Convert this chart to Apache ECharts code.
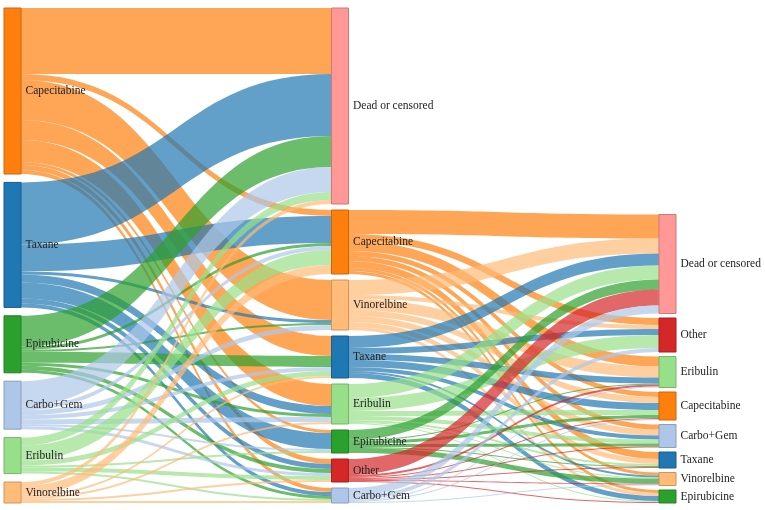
<!DOCTYPE html>
<html>
<head>
<meta charset="utf-8">
<script src="https://cdn.jsdelivr.net/npm/echarts@6/dist/echarts.min.js"></script>
<style>
  html, body { margin: 0; padding: 0; background: #fff; }
  #chart { width: 765px; height: 510px; }
</style>
</head>
<body>
<div id="chart"></div>
<script>
  // treatment at each line, largest group first
  const line1 = ['Capecitabine', 'Taxane', 'Epirubicine', 'Carbo+Gem', 'Eribulin', 'Vinorelbine'];
  const line2 = ['Dead or censored', 'Capecitabine', 'Vinorelbine', 'Taxane', 'Eribulin', 'Epirubicine', 'Other', 'Carbo+Gem'];
  const line3 = ['Dead or censored', 'Other', 'Eribulin', 'Capecitabine', 'Carbo+Gem', 'Taxane', 'Vinorelbine', 'Epirubicine'];

  // patients from line 1 (rows) to line 2 (columns, same order as line2)
  const flows12 = [
    [66, 6, 40, 20, 22, 3, 5, 4],   // Capecitabine
    [62, 27, 3, 0, 8, 16, 5, 4],    // Taxane
    [31, 3, 2, 11, 3, 0, 4, 3],     // Epirubicine
    [25, 4, 5, 4, 5, 2, 3, 0],      // Carbo+Gem
    [8, 15, 0, 5, 0, 2, 4, 2],      // Eribulin
    [4, 9, 0, 2, 2, 0, 2, 2],       // Vinorelbine
  ];

  // patients from line 2 (rows, line2 without Dead or censored) to line 3 (columns)
  const flows23 = [
    [24, 7, 10, 5, 5, 7, 3, 3],     // Capecitabine
    [15, 4, 11, 6, 6, 5, 0, 3],     // Vinorelbine
    [12, 6, 6, 7, 4, 0, 2, 5],      // Taxane
    [14, 13, 0, 5, 4, 2, 1, 1],     // Eribulin
    [10, 0, 1, 3, 3, 1, 5, 0],      // Epirubicine
    [16, 0, 2, 1, 1, 1, 1, 1],      // Other
    [8, 4, 1, 1, 0, 0, 1, 0],       // Carbo+Gem
  ];

  const colors = {
    'Capecitabine': '#ff7f0e',
    'Taxane': '#1f77b4',
    'Epirubicine': '#2ca02c',
    'Carbo+Gem': '#aec7e8',
    'Eribulin': '#98df8a',
    'Vinorelbine': '#ffbb78',
    'Dead or censored': '#ff9896',
    'Other': '#d62728'
  };

  const nodeGap = 6;
  const lastGap = 4.5;
  const layoutHeight = 510 - 8 - 7;

  function darker(hex) {
    const n = parseInt(hex.slice(1), 16);
    const r = Math.round(((n >> 16) & 255) * 0.8);
    const g = Math.round(((n >> 8) & 255) * 0.8);
    const b = Math.round((n & 255) * 0.8);
    return 'rgb(' + r + ',' + g + ',' + b + ')';
  }

  const id = (level, name) => level + ':' + name;
  const sum = arr => arr.reduce((a, b) => a + b, 0);

  const links = [];
  flows12.forEach((row, i) => row.forEach((v, j) => {
    if (v > 0) links.push({source: id(1, line1[i]), target: id(2, line2[j]), value: v});
  }));
  const line2Sources = line2.slice(1);
  flows23.forEach((row, i) => row.forEach((v, j) => {
    if (v > 0) links.push({source: id(2, line2Sources[i]), target: id(3, line3[j]), value: v});
  }));

  // node totals, same rule as the library: max of in and out
  function total(name) {
    const inV = sum(links.filter(l => l.target === name).map(l => l.value));
    const outV = sum(links.filter(l => l.source === name).map(l => l.value));
    return Math.max(inV, outV);
  }
  const columns = [line1, line2, line3].map((line, k) => line.map(n => total(id(k + 1, n))));
  const ky = Math.min(...columns.map(c => (layoutHeight - (c.length - 1) * nodeGap) / sum(c)));

  // first column spread over the full height, last column packed at the bottom
  const col1 = columns[0], col3 = columns[2];
  const placement = {
    0: {start: 0, gap: (layoutHeight - sum(col1) * ky) / (col1.length - 1)},
    2: {start: layoutHeight - (sum(col3) * ky + (col3.length - 1) * lastGap), gap: lastGap}
  };

  const nodes = [];
  [line1, line2, line3].forEach((line, k) => {
    let acc = 0;
    line.forEach((name, i) => {
      const node = {
        name: id(k + 1, name),
        depth: k,
        itemStyle: {color: colors[name], borderColor: darker(colors[name]), borderWidth: 1}
      };
      const p = placement[k];
      if (p) {
        node.localY = (p.start + acc * ky + i * p.gap) / layoutHeight;
      }
      acc += columns[k][i];
      nodes.push(node);
    });
  });

  const chart = echarts.init(document.getElementById('chart'));
  chart.setOption({
    animation: false,
    series: [{
      type: 'sankey',
      left: 4,
      top: 8,
      right: 89,
      bottom: 7,
      nodeWidth: 17,
      nodeGap: nodeGap,
      nodeAlign: 'left',
      layoutIterations: 0,
      draggable: false,
      emphasis: {disabled: true},
      label: {
        position: 'right',
        distance: 4,
        fontFamily: 'Liberation Serif',
        fontSize: 11.5,
        color: '#222',
        formatter: p => p.name.split(':')[1]
      },
      lineStyle: {
        color: 'source',
        opacity: 0.7,
        curveness: 0.5
      },
      data: nodes,
      links: links
    }]
  });
</script>
</body>
</html>
